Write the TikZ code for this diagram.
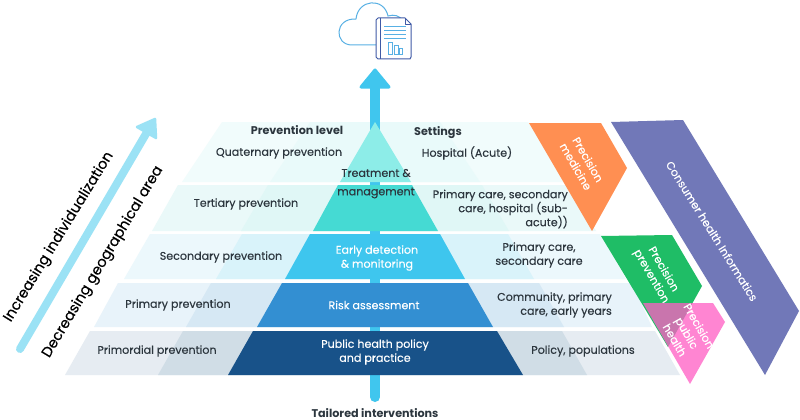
\documentclass[tikz,border=0pt]{standalone}
\usepackage{fontspec}
\setmainfont{Poppins}
\newfontfamily\medf[FakeBold=0.25]{Poppins}
\begin{document}
\begin{tikzpicture}[x=1pt,y=-1pt,
  lbl/.style={text=textdk,font=\medf\fontsize{11.1}{14}\selectfont,inner sep=0pt,align=center},
  lblr/.style={text=textdk,font=\medf\fontsize{11.1}{14}\selectfont,inner sep=0pt,align=right},
  head/.style={text=textdk,font=\fontsize{11.2}{14}\selectfont\bfseries,inner sep=0pt},
  wlbl/.style={text=white,font=\medf\fontsize{11.1}{14}\selectfont,inner sep=0pt,align=center},
  side/.style={text=white,font=\medf\fontsize{11.1}{14}\selectfont,inner sep=0pt,align=center},
  rot/.style={text=black,font=\medf\fontsize{14.4}{16}\selectfont,inner sep=0pt},
  cloudln/.style={draw=cloudc,line width=1pt,fill=white},
  docln/.style={draw=docc,line width=1pt,line join=round},
  band/.style={draw=none}]
\definecolor{textdk}{HTML}{2C363E}
\definecolor{cloudc}{HTML}{58B0E4}
\definecolor{docc}{HTML}{3F5AA6}
\definecolor{shaft}{HTML}{40C6EE}
\useasboundingbox (0,0) rectangle (800,420);
% outer bands
\fill[band,fill=white] (0,0) rectangle (800,420);
\fill[band,fill={rgb,255:red,241;green,252;blue,252}] (222,122)--(528,122)--(568,182)--(182,182)--cycle;
\fill[band,fill={rgb,255:red,234;green,249;blue,249}] (178,185)--(570,185)--(596,231)--(152,231)--cycle;
\fill[band,fill={rgb,255:red,236;green,248;blue,252}] (150,234)--(600,234)--(626,279)--(124,279)--cycle;
\fill[band,fill={rgb,255:red,232;green,243;blue,250}] (118,283)--(632,283)--(652,327)--(94,327)--cycle;
\fill[band,fill={rgb,255:red,230;green,236;blue,242}] (90,331)--(655,331)--(680,375)--(65,375)--cycle;
% middle bands
\fill[band,fill={rgb,255:red,233;green,250;blue,250}] (310,122)--(440,122)--(480,182)--(270,182)--cycle;
\fill[band,fill={rgb,255:red,224;green,247;blue,246}] (268,185)--(482,185)--(509,231)--(241,231)--cycle;
\fill[band,fill={rgb,255:red,217;green,243;blue,250}] (242,234)--(508,234)--(534,279)--(216,279)--cycle;
\fill[band,fill={rgb,255:red,214;green,232;blue,244}] (211,283)--(539,283)--(564,327)--(186,327)--cycle;
\fill[band,fill={rgb,255:red,208;green,221;blue,230}] (183,331)--(562,331)--(587,375)--(158,375)--cycle;
% central arrow
\draw[line width=10pt,draw=shaft,line cap=round] (375,397)--(375,85);
\fill[fill=shaft,draw=shaft,line width=3pt,line join=round] (375,70)--(389,87)--(361,87)--cycle;
% pyramid
\fill[fill={rgb,255:red,141;green,237;blue,232}] (375,122)--(411,182)--(340,182)--cycle;
\fill[fill={rgb,255:red,69;green,218;blue,211}] (338,185)--(412,185)--(438,231)--(313,231)--cycle;
\fill[fill={rgb,255:red,62;green,198;blue,238}] (310,234)--(440,234)--(465,279)--(285,279)--cycle;
\fill[fill={rgb,255:red,51;green,143;blue,210}] (282,283)--(468,283)--(493,327)--(257,327)--cycle;
\fill[fill={rgb,255:red,24;green,82;blue,137}] (253,331)--(497,331)--(523,375)--(228,375)--cycle;
% side shapes
\fill[fill={rgb,255:red,255;green,143;blue,82}] (529,123)--(601,123)--(627,168)--(592,231)--cycle;
\fill[fill={rgb,255:red,113;green,120;blue,184}] (611,122)--(683,120)--(799,311)--(765,375)--cycle;
\fill[fill={rgb,255:red,31;green,189;blue,102}] (601,236)--(672,235)--(702,286)--(668,347)--cycle;
\fill[fill={rgb,255:red,255;green,95;blue,196},fill opacity=.76] (643,303)--(713,303)--(725,322)--(690,384)--cycle;
% left arrow
\draw[line width=8pt,draw={rgb,255:red,155;green,226;blue,245},line cap=round] (20,349)--(150,127);
\fill[fill={rgb,255:red,155;green,226;blue,245},draw={rgb,255:red,155;green,226;blue,245},line width=2.5pt,line join=round] (155,119)--(156,138)--(137,127)--cycle;
% cloud icon
\draw[cloudln] (376,45) -- (352,45) .. controls (334,45) and (334,18) .. (356,19) .. controls (358,-1) and (384,-3) .. (388,16) .. controls (394,14) and (400,16) .. (402,20);
\fill[fill=white] (376,18) rectangle (411,59);
\draw[docln] (376,20) -- (376,57) -- (378,59) -- (410,59) -- (411,57) -- (411,24) -- (405,18) -- (378,18) -- cycle;
\draw[docln] (380,18) -- (380,59);
\draw[docln,line width=.8pt] (405,18) -- (405,24) -- (411,24);
\foreach \yy in {26,30,34,38} \draw[cloudc,line width=.9pt] (384,\yy) -- (406,\yy);
\draw[cloudc,line width=.9pt] (388,42) rectangle (392,54);
\draw[cloudc,line width=.9pt] (394,45) rectangle (398,54);
\draw[cloudc,line width=.9pt] (399,48) rectangle (402,54);
% labels
\node[head] (h1) at (297,130) {Prevention level};
\node[head] (h2) at (438,133) {Settings};
\node[lbl] (a1) at (279,153) {Quaternary prevention};
\node[lbl] (b1) at (467,153) {Hospital (Acute)};
\node[lbl] (c1a) at (376,173) {Treatment \&};
\node[lbl] (c1b) at (376,193) {management};
\node[lbl] (a2) at (246,204) {Tertiary prevention};
\node[lblr,anchor=east] (b2) at (568,209) {Primary care, secondary\\care, hospital (sub-\\acute))};
\node[lbl] (a3) at (221,257) {Secondary prevention};
\node[wlbl] (c3) at (377,258) {Early detection\\\& monitoring};
\node[lbl] (b3) at (539,255) {Primary care,\\secondary care};
\node[lbl] (a4) at (178,305) {Primary prevention};
\node[wlbl] (c4) at (374,305) {Risk assessment};
\node[lblr,anchor=east] (b4) at (612,305) {Community, primary\\care, early years};
\node[lbl] (a5) at (157,351) {Primordial prevention};
\node[wlbl] (c5) at (375,352) {Public health policy\\and practice};
\node[lbl] (b5) at (583,351) {Policy, populations};
\node[head] (foot) at (375,413) {Tailored interventions};
\node[side,rotate=-60] (s1) at (582,163) {Precision\\medicine};
\node[side,rotate=-58] (s2) at (712,231) {Consumer health Informatics};
\node[side,rotate=-60] (s3) at (657,273) {Precision\\prevention};
\node[side,rotate=-60] (s4) at (687,333) {Precision\\public\\health};
\node[rot,rotate=58.5] (t1) at (59,237) {Increasing individualization};
\node[rot,rotate=59] (t2) at (103,262) {Decreasing geographical area};
\end{tikzpicture}
\end{document}
